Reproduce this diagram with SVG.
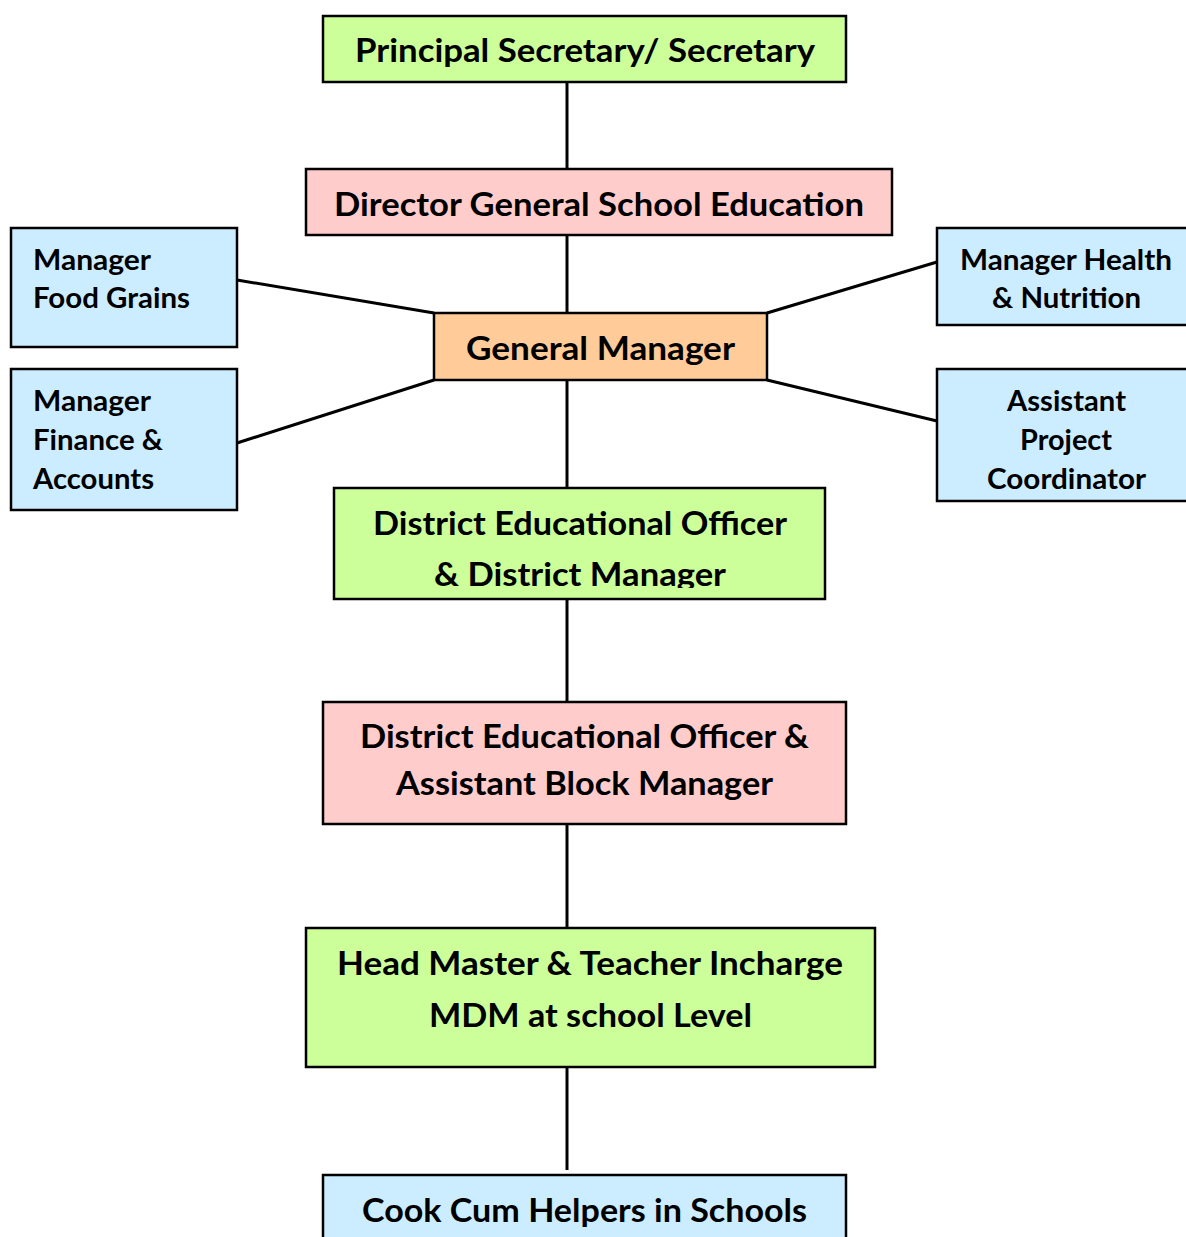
<svg xmlns="http://www.w3.org/2000/svg" width="1186" height="1237" viewBox="0 0 1186 1237">
<style>
.box{stroke:#000;stroke-width:2.5}
.g{fill:#ccff99}.p{fill:#ffcccc}.o{fill:#ffcc99}.b{fill:#ccecff}
text{font-family:Lato,"Open Sans","Liberation Sans",sans-serif;font-weight:bold;fill:#000}
.t{font-size:33px;text-anchor:middle}
.s{font-size:28.5px}
.sc{font-size:28.5px;text-anchor:middle}
.c{stroke:#000;stroke-width:3;fill:none}
</style>
<defs>
<clipPath id="clipDM"><rect x="334" y="488" width="492" height="100"/></clipPath>
</defs>
<rect width="1186" height="1237" fill="#fff"/>
<g id="connectors">
<line class="c" x1="567" y1="82" x2="567" y2="169"/>
<line class="c" x1="567" y1="235" x2="567" y2="313"/>
<line class="c" x1="567" y1="380" x2="567" y2="488"/>
<line class="c" x1="567" y1="599" x2="567" y2="702"/>
<line class="c" x1="567" y1="824" x2="567" y2="928"/>
<line class="c" x1="567" y1="1067" x2="567" y2="1170"/>
<line class="c" x1="237" y1="280" x2="434" y2="313"/>
<line class="c" x1="237" y1="443" x2="434" y2="380"/>
<line class="c" x1="767" y1="313" x2="937" y2="262"/>
<line class="c" x1="767" y1="380" x2="937" y2="421"/>
</g>
<g id="principal">
<rect class="box g" x="323" y="16" width="523" height="66"/>
<text class="t" x="585" y="62" textLength="460" lengthAdjust="spacingAndGlyphs">Principal Secretary/ Secretary</text>
</g>
<g id="director">
<rect class="box p" x="306" y="169" width="586" height="66"/>
<text class="t" x="599" y="216" textLength="530" lengthAdjust="spacingAndGlyphs">Director General School Education</text>
</g>
<g id="general-manager">
<rect class="box o" x="434" y="313" width="333" height="67"/>
<text class="t" x="600.5" y="360" textLength="269" lengthAdjust="spacingAndGlyphs">General Manager</text>
</g>
<g id="food-grains">
<rect class="box b" x="11" y="228" width="226" height="119"/>
<text class="s" x="33" y="270" textLength="118" lengthAdjust="spacingAndGlyphs">Manager</text>
<text class="s" x="33" y="308" textLength="157" lengthAdjust="spacingAndGlyphs">Food Grains</text>
</g>
<g id="finance">
<rect class="box b" x="11" y="369" width="226" height="141"/>
<text class="s" x="33" y="411" textLength="118" lengthAdjust="spacingAndGlyphs">Manager</text>
<text class="s" x="33" y="450" textLength="130" lengthAdjust="spacingAndGlyphs">Finance &amp;</text>
<text class="s" x="33" y="489" textLength="121" lengthAdjust="spacingAndGlyphs">Accounts</text>
</g>
<g id="health">
<rect class="box b" x="937" y="228" width="255" height="97"/>
<text class="sc" x="1066" y="270" textLength="212" lengthAdjust="spacingAndGlyphs">Manager Health</text>
<text class="sc" x="1066.5" y="308" textLength="149" lengthAdjust="spacingAndGlyphs">&amp; Nutrition</text>
</g>
<g id="apc">
<rect class="box b" x="937" y="369" width="255" height="132"/>
<text class="sc" x="1066.5" y="411" textLength="119" lengthAdjust="spacingAndGlyphs">Assistant</text>
<text class="sc" x="1066" y="450" textLength="92" lengthAdjust="spacingAndGlyphs">Project</text>
<text class="sc" x="1066.5" y="489" textLength="159" lengthAdjust="spacingAndGlyphs">Coordinator</text>
</g>
<g id="deo-dm">
<rect class="box g" x="334" y="488" width="491" height="111"/>
<text class="t" x="580" y="535" textLength="414" lengthAdjust="spacingAndGlyphs">District Educational Officer</text>
<text class="t" x="580" y="586" textLength="292" lengthAdjust="spacingAndGlyphs" clip-path="url(#clipDM)">&amp; District Manager</text>
</g>
<g id="deo-abm">
<rect class="box p" x="323" y="702" width="523" height="122"/>
<text class="t" x="584.5" y="748" textLength="449" lengthAdjust="spacingAndGlyphs">District Educational Officer &amp;</text>
<text class="t" x="584.5" y="795" textLength="377" lengthAdjust="spacingAndGlyphs">Assistant Block Manager</text>
</g>
<g id="head-master">
<rect class="box g" x="306" y="928" width="569" height="139"/>
<text class="t" x="590" y="975" textLength="506" lengthAdjust="spacingAndGlyphs">Head Master &amp; Teacher Incharge</text>
<text class="t" x="590.5" y="1027" textLength="323" lengthAdjust="spacingAndGlyphs">MDM at school Level</text>
</g>
<g id="cook">
<rect class="box b" x="323" y="1175" width="523" height="80"/>
<text class="t" x="584.5" y="1222" textLength="445" lengthAdjust="spacingAndGlyphs">Cook Cum Helpers in Schools</text>
</g>
</svg>
